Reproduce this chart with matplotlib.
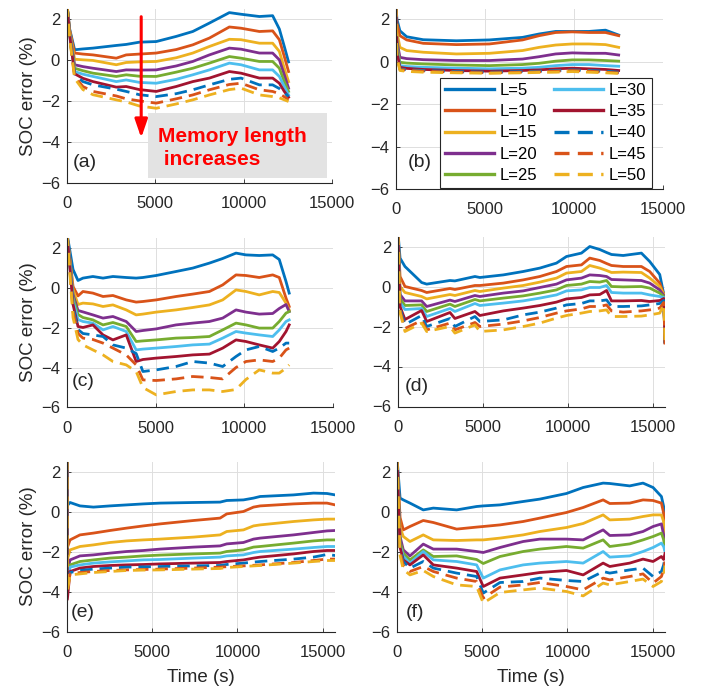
import matplotlib.pyplot as plt
from matplotlib.lines import Line2D
from matplotlib.patches import Rectangle

plt.rcParams['font.family'] = ['Liberation Sans', 'DejaVu Sans']

# memory lengths of the ten curves
memory = [5, 10, 15, 20, 25, 30, 35, 40, 45, 50]
labels = [f'L={m}' for m in memory]

# (a)
t_a = [0, 150, 430, 900, 1470, 2790, 3350, 4100, 5050, 6180, 7120, 8060, 9190, 9850, 10890, 11640, 12020, 12300, 12540]
soc_a = [
    [2.7, 1.5, 0.49, 0.53, 0.57, 0.7, 0.75, 0.86, 0.89, 1.14, 1.38, 1.79, 2.3, 2.22, 2.11, 2.15, 1.5, 0.65, -0.1],
    [2.7, 1.45, 0.33, 0.28, 0.24, 0.08, 0.24, 0.28, 0.33, 0.5, 0.73, 1.06, 1.6, 1.54, 1.38, 1.41, 0.98, 0.16, -0.57],
    [2.7, 1.4, 0.03, 0.0, -0.03, -0.24, -0.13, -0.1, -0.08, 0.1, 0.33, 0.65, 1.0, 0.98, 0.81, 0.81, 0.41, -0.41, -1.06],
    [2.7, 1.35, -0.24, -0.33, -0.41, -0.57, -0.49, -0.5, -0.49, -0.3, -0.08, 0.24, 0.57, 0.52, 0.33, 0.33, 0.0, -0.73, -1.38],
    [2.7, 1.3, -0.41, -0.53, -0.65, -0.81, -0.73, -0.8, -0.81, -0.6, -0.41, -0.16, 0.16, 0.08, -0.08, -0.08, -0.41, -1.06, -1.54],
    [2.7, 1.25, -0.57, -0.7, -0.81, -1.06, -0.98, -1.1, -1.14, -0.95, -0.73, -0.49, -0.16, -0.24, -0.49, -0.49, -0.81, -1.3, -1.71],
    [2.7, 1.2, -0.68, -0.9, -1.06, -1.33, -1.3, -1.45, -1.54, -1.3, -1.06, -0.89, -0.57, -0.65, -0.89, -0.89, -1.14, -1.54, -1.82],
    [2.7, 1.15, -0.7, -1.06, -1.22, -1.43, -1.54, -1.7, -1.79, -1.65, -1.46, -1.22, -0.95, -0.89, -1.22, -1.22, -1.4, -1.6, -1.79],
    [2.7, 1.1, -0.8, -1.3, -1.54, -1.76, -1.9, -2.0, -2.11, -1.9, -1.71, -1.46, -1.2, -1.14, -1.46, -1.54, -1.65, -1.8, -1.95],
    [2.7, 1.05, -0.9, -1.45, -1.7, -1.95, -2.05, -2.25, -2.36, -2.15, -1.95, -1.71, -1.45, -1.38, -1.71, -1.79, -1.85, -1.95, -2.03],
]

# (b)
t_b = [0, 50, 220, 600, 1530, 3390, 5250, 7110, 8040, 8970, 9900, 10840, 11770, 12510]
soc_b = [
    [2.7, 2.0, 1.45, 1.17, 1.03, 0.98, 1.02, 1.14, 1.3, 1.42, 1.42, 1.42, 1.48, 1.25],
    [2.7, 1.8, 1.22, 1.02, 0.86, 0.8, 0.83, 1.02, 1.22, 1.37, 1.4, 1.37, 1.37, 1.22],
    [2.7, 1.4, 0.67, 0.52, 0.44, 0.36, 0.39, 0.52, 0.67, 0.78, 0.83, 0.83, 0.8, 0.67],
    [2.7, 1.0, 0.2, 0.14, 0.09, 0.05, 0.05, 0.12, 0.23, 0.36, 0.41, 0.39, 0.39, 0.31],
    [2.7, 0.8, -0.03, -0.07, -0.11, -0.16, -0.19, -0.14, -0.08, 0.02, 0.08, 0.08, 0.05, 0.02],
    [2.7, 0.6, -0.19, -0.23, -0.27, -0.31, -0.34, -0.31, -0.27, -0.19, -0.14, -0.14, -0.19, -0.22],
    [2.7, 0.5, -0.27, -0.32, -0.37, -0.42, -0.45, -0.42, -0.39, -0.34, -0.31, -0.34, -0.37, -0.42],
    [2.7, 0.4, -0.34, -0.38, -0.42, -0.47, -0.5, -0.47, -0.45, -0.42, -0.39, -0.42, -0.45, -0.5],
    [2.7, 0.3, -0.37, -0.41, -0.45, -0.5, -0.53, -0.5, -0.48, -0.45, -0.42, -0.45, -0.5, -0.53],
    [2.7, 0.2, -0.42, -0.46, -0.5, -0.53, -0.55, -0.53, -0.51, -0.5, -0.47, -0.5, -0.53, -0.56],
]

# (c)
t_c = [0, 340, 620, 900, 1460, 2030, 2590, 3340, 3900, 4280, 5030, 6150, 7090, 8030, 8780, 9530, 10090, 10840, 11600, 11970, 12350, 12530]
soc_c = [
    [2.7, 0.9, 0.35, 0.47, 0.55, 0.47, 0.55, 0.5, 0.47, 0.5, 0.6, 0.8, 0.97, 1.22, 1.45, 1.72, 1.63, 1.6, 1.63, 1.4, 0.3, -0.28],
    [2.7, 0.05, -0.42, -0.2, -0.28, -0.45, -0.4, -0.62, -0.73, -0.7, -0.62, -0.45, -0.33, -0.2, 0.13, 0.63, 0.6, 0.5, 0.63, 0.5, -0.53, -0.95],
    [2.7, -0.1, -0.85, -0.78, -0.82, -0.95, -0.87, -1.12, -1.37, -1.33, -1.23, -1.12, -1.0, -0.87, -0.62, -0.12, -0.2, -0.37, -0.2, -0.25, -0.78, -1.12],
    [2.7, -0.35, -1.15, -1.22, -1.37, -1.53, -1.45, -1.7, -2.2, -2.15, -2.07, -1.87, -1.78, -1.7, -1.53, -1.12, -1.23, -1.33, -1.3, -1.05, -0.85, -1.2],
    [2.7, -0.5, -1.35, -1.5, -1.62, -1.87, -1.75, -1.95, -2.7, -2.67, -2.62, -2.53, -2.5, -2.45, -2.12, -1.78, -1.87, -2.03, -2.03, -1.7, -1.28, -1.2],
    [2.7, -0.65, -1.6, -1.7, -1.78, -2.12, -1.95, -2.2, -3.12, -3.08, -3.03, -2.95, -2.87, -2.83, -2.53, -2.2, -2.28, -2.37, -2.45, -2.12, -1.7, -1.62],
    [2.7, -0.85, -1.95, -2.0, -1.87, -2.37, -2.62, -2.37, -3.7, -3.6, -3.53, -3.45, -3.37, -3.33, -3.03, -2.62, -2.7, -2.87, -3.03, -2.7, -2.2, -1.87],
    [2.7, -1.0, -2.1, -2.3, -2.37, -2.45, -2.87, -3.03, -3.3, -4.2, -4.12, -3.95, -3.7, -3.78, -3.95, -3.45, -3.12, -2.95, -3.2, -3.03, -2.78, -2.78],
    [2.7, -1.2, -2.3, -2.53, -2.6, -2.78, -3.03, -3.37, -3.87, -4.62, -4.65, -4.57, -4.45, -4.5, -4.57, -4.0, -3.7, -3.62, -3.7, -3.53, -3.12, -3.03],
    [2.7, -1.5, -2.6, -2.87, -3.12, -3.37, -3.7, -3.87, -4.2, -5.0, -5.37, -5.2, -5.12, -5.12, -5.2, -5.1, -4.6, -4.12, -4.28, -4.28, -4.03, -3.87],
]

# (d)
t_d = [0, 120, 410, 1390, 1690, 3060, 3350, 4530, 4820, 6200, 7370, 8350, 9330, 9920, 10800, 11290, 11880, 12280, 12570, 13260, 14330, 14820, 15410, 15650, 15720]
soc_d = [
    [2.7, 1.42, 1.0, 0.2, 0.12, 0.3, 0.28, 0.5, 0.45, 0.58, 0.75, 0.92, 1.17, 1.5, 1.67, 2.0, 1.85, 1.7, 1.6, 1.55, 1.67, 1.25, 0.6, -0.4, -2.6],
    [2.7, 0.5, 0.0, -0.2, -0.3, -0.1, -0.15, 0.05, 0.05, 0.17, 0.33, 0.5, 0.75, 1.0, 1.08, 1.42, 1.3, 1.15, 1.05, 1.0, 1.0, 0.75, 0.17, -0.4, -2.7],
    [2.7, 0.0, -0.3, -0.5, -0.62, -0.4, -0.45, -0.2, -0.25, -0.08, 0.05, 0.22, 0.42, 0.67, 0.75, 1.05, 0.92, 0.8, 0.7, 0.72, 0.7, 0.42, 0.0, -0.4, -2.7],
    [2.7, -0.4, -0.72, -0.72, -1.0, -0.68, -0.75, -0.45, -0.5, -0.33, -0.22, -0.05, 0.12, 0.33, 0.42, 0.58, 0.55, 0.5, 0.35, 0.33, 0.3, 0.17, -0.17, -0.45, -2.75],
    [2.7, -0.6, -0.95, -0.92, -1.25, -0.88, -1.0, -0.65, -0.72, -0.58, -0.47, -0.33, -0.17, 0.05, 0.12, 0.25, 0.22, 0.3, 0.0, -0.02, 0.0, -0.08, -0.33, -0.5, -2.75],
    [2.7, -0.8, -1.15, -1.1, -1.5, -1.1, -1.25, -0.85, -0.95, -0.83, -0.72, -0.58, -0.42, -0.22, -0.17, -0.05, -0.05, 0.05, -0.3, -0.33, -0.33, -0.42, -0.5, -0.55, -2.8],
    [2.7, -1.0, -1.65, -1.2, -1.75, -1.3, -1.6, -1.25, -1.45, -1.22, -1.08, -0.95, -0.78, -0.62, -0.55, -0.42, -0.4, -0.2, -0.72, -0.72, -0.7, -0.75, -0.7, -0.6, -2.8],
    [2.7, -1.1, -1.9, -1.45, -2.0, -1.6, -2.0, -1.5, -1.75, -1.67, -1.42, -1.28, -1.08, -0.92, -0.85, -0.72, -0.72, -0.67, -1.0, -1.0, -0.97, -0.92, -0.85, -0.7, -2.85],
    [2.7, -1.2, -2.1, -1.7, -2.17, -1.83, -2.17, -1.8, -2.0, -1.88, -1.72, -1.55, -1.33, -1.22, -1.12, -1.0, -1.0, -0.92, -1.22, -1.28, -1.22, -1.17, -1.08, -0.8, -2.9],
    [2.7, -1.3, -2.25, -1.83, -2.25, -2.0, -2.33, -1.92, -2.25, -2.17, -2.0, -1.83, -1.58, -1.45, -1.33, -1.25, -1.22, -1.17, -1.5, -1.5, -1.48, -1.42, -1.33, -0.9, -2.9],
]

# (e)
t_e = [0, 20, 180, 760, 1550, 2520, 3500, 4480, 5460, 7420, 8980, 9370, 10350, 10940, 11330, 13290, 14460, 15250, 15730]
soc_e = [
    [2.7, 0.3, 0.45, 0.28, 0.22, 0.28, 0.33, 0.38, 0.42, 0.45, 0.47, 0.55, 0.58, 0.67, 0.75, 0.83, 0.92, 0.9, 0.83],
    [2.7, -1.8, -1.42, -1.17, -1.08, -0.95, -0.83, -0.72, -0.62, -0.45, -0.33, -0.12, 0.0, 0.22, 0.28, 0.38, 0.42, 0.42, 0.33],
    [2.7, -2.4, -1.92, -1.75, -1.67, -1.55, -1.47, -1.42, -1.38, -1.28, -1.17, -1.0, -0.92, -0.72, -0.67, -0.5, -0.42, -0.38, -0.38],
    [2.7, -3.0, -2.42, -2.22, -2.17, -2.08, -2.0, -1.95, -1.88, -1.78, -1.72, -1.62, -1.55, -1.38, -1.33, -1.17, -1.05, -0.97, -0.95],
    [2.7, -3.3, -2.67, -2.5, -2.42, -2.33, -2.28, -2.22, -2.18, -2.12, -2.08, -2.0, -1.92, -1.78, -1.75, -1.58, -1.47, -1.42, -1.42],
    [2.7, -3.5, -2.78, -2.67, -2.58, -2.52, -2.47, -2.42, -2.4, -2.33, -2.28, -2.22, -2.17, -2.05, -2.0, -1.88, -1.8, -1.75, -1.75],
    [2.7, -4.4, -3.0, -2.83, -2.75, -2.7, -2.67, -2.65, -2.62, -2.58, -2.55, -2.5, -2.42, -2.33, -2.28, -2.12, -2.0, -1.95, -1.95],
    [2.7, -3.8, -3.05, -2.95, -2.88, -2.83, -2.78, -2.77, -2.75, -2.72, -2.7, -2.65, -2.58, -2.53, -2.5, -2.38, -2.28, -2.15, -2.2],
    [2.7, -3.9, -3.12, -3.05, -3.0, -2.95, -2.92, -2.9, -2.88, -2.83, -2.78, -2.76, -2.72, -2.69, -2.67, -2.55, -2.45, -2.38, -2.38],
    [2.7, -4.0, -3.17, -3.12, -3.05, -3.0, -2.95, -2.93, -2.92, -2.88, -2.85, -2.8, -2.75, -2.72, -2.7, -2.58, -2.5, -2.45, -2.45],
]

# (f)
t_f = [0, 180, 370, 760, 1540, 2130, 3500, 4670, 5060, 6040, 7400, 8380, 9940, 10920, 12090, 12480, 13650, 14430, 15020, 15510, 15640, 15720]
soc_f = [
    [2.7, 0.67, 0.58, 0.42, 0.08, 0.17, 0.08, 0.25, 0.28, 0.33, 0.5, 0.62, 0.9, 1.2, 1.42, 1.4, 1.28, 1.42, 1.2, 0.75, 0.25, -1.7],
    [2.7, -0.3, -0.92, -0.75, -0.45, -0.55, -0.88, -0.78, -0.75, -0.67, -0.5, -0.33, -0.05, 0.2, 0.58, 0.4, 0.42, 0.58, 0.55, 0.42, -0.08, -1.6],
    [2.7, -0.8, -1.25, -1.5, -1.17, -1.42, -1.45, -1.42, -1.42, -1.33, -1.17, -1.0, -0.8, -0.6, -0.17, -0.42, -0.38, -0.25, -0.17, -0.17, -0.5, -1.7],
    [2.7, -1.25, -1.92, -2.22, -1.63, -1.88, -1.88, -2.0, -2.05, -1.8, -1.5, -1.38, -1.38, -1.42, -0.92, -1.2, -1.17, -1.0, -0.75, -0.62, -1.17, -1.8],
    [2.7, -1.5, -2.08, -2.42, -1.92, -2.25, -2.22, -2.4, -2.6, -2.25, -2.0, -1.88, -1.75, -1.83, -1.42, -1.75, -1.62, -1.42, -1.25, -1.08, -1.4, -1.9],
    [2.7, -1.7, -2.25, -2.58, -2.0, -2.42, -2.5, -2.67, -3.33, -2.92, -2.67, -2.58, -2.5, -2.58, -2.0, -2.28, -2.22, -2.0, -1.8, -1.58, -1.75, -2.0],
    [2.7, -1.8, -2.42, -2.67, -2.17, -2.67, -2.83, -3.0, -3.75, -3.33, -3.17, -3.05, -2.95, -3.17, -2.58, -2.75, -2.58, -2.38, -2.5, -2.25, -2.4, -2.1],
    [2.7, -1.9, -2.5, -2.83, -2.5, -2.83, -3.08, -3.25, -4.08, -3.55, -3.5, -3.33, -3.45, -3.5, -3.0, -3.08, -2.92, -2.83, -3.25, -3.0, -2.67, -2.3],
    [2.7, -2.0, -2.7, -3.0, -2.75, -3.0, -3.33, -3.5, -4.33, -3.78, -3.67, -3.55, -3.75, -3.92, -3.33, -3.42, -3.25, -3.12, -3.58, -3.25, -2.9, -2.5],
    [2.7, -2.2, -2.9, -3.17, -2.95, -3.25, -3.67, -3.75, -4.58, -4.05, -3.92, -3.83, -4.0, -4.22, -3.58, -3.67, -3.5, -3.38, -3.75, -3.5, -3.17, -2.7],
]

colors = ['#0072BD', '#D95319', '#EDB120', '#7E2F8E', '#77AC30', '#4DBEEE', '#A2142F',
          '#0072BD', '#D95319', '#EDB120']
dash = (4.5, 2.5)
ink = '#262626'

W, H = 706, 690
fig = plt.figure(figsize=(W / 100, H / 100), dpi=100)


def px_axes(left, top, right, bottom):
    return fig.add_axes([left / W, 1 - bottom / H, (right - left) / W, (bottom - top) / H])


# (t, soc, pixel box, x end, tag, tag position, ylabel, xlabel)
panels = [
    (t_a, soc_a, (67, 8.5, 332, 183), 15000, '(a)', (330, -5.0), True, False),
    (t_b, soc_b, (396, 8.5, 663, 189), 15000, '(b)', (650, -4.75), False, False),
    (t_c, soc_c, (67, 237.5, 333, 407.5), 15000, '(c)', (290, -4.7), True, False),
    (t_d, soc_d, (398, 236.5, 665, 406.5), 15720, '(d)', (390, -5.0), False, False),
    (t_e, soc_e, (67, 461.5, 335, 631.5), 15720, '(e)', (200, -5.05), True, True),
    (t_f, soc_f, (397, 461.5, 665, 631.5), 15720, '(f)', (520, -5.05), False, True),
]

axes = []
for t, soc, box, xend, tag, tag_xy, ylab, xlab in panels:
    ax = px_axes(*box)
    for i, y in enumerate(soc):
        if i >= 7:
            ax.plot(t, y, color=colors[i], lw=2.0, dashes=dash)
        else:
            ax.plot(t, y, color=colors[i], lw=2.0, solid_joinstyle='round')
    ax.set_xlim(0, xend)
    ax.set_ylim(-6, 2.5)
    ax.set_xticks([0, 5000, 10000, 15000])
    ax.set_yticks([-6, -4, -2, 0, 2])
    ax.grid(True, color='#dedede', lw=0.7)
    ax.set_axisbelow(True)
    for s in ['top', 'right']:
        ax.spines[s].set_visible(False)
    for s in ['left', 'bottom']:
        ax.spines[s].set_color(ink)
        ax.spines[s].set_linewidth(0.8)
    ax.tick_params(direction='in', length=3, width=0.6, colors=ink, labelsize=12)
    ax.tick_params(axis='x', pad=9.5)
    ax.tick_params(axis='y', pad=5)
    ax.text(tag_xy[0], tag_xy[1], tag, fontsize=14, color=ink, ha='left', va='center', zorder=6)
    if ylab:
        ax.set_ylabel('SOC error (%)', fontsize=13.5, color=ink)
        ax.yaxis.set_label_coords(-30 / (box[2] - box[0]), 0.5)
    if xlab:
        ax.set_xlabel('Time (s)', fontsize=13.5, color=ink, labelpad=7)
    axes.append(ax)

# annotation in (a)
ax_a = axes[0]
ax_a.add_patch(Rectangle((4560, -5.75), 10170, 3.15, facecolor='#e3e3e3', edgecolor='none', zorder=2.5))
ax_a.annotate('', xy=(4200, -3.8), xytext=(4200, 2.1),
              arrowprops=dict(arrowstyle='-|>,head_length=1.1,head_width=0.38', color='#ff0000',
                              lw=2.2, shrinkA=0, shrinkB=0), zorder=4)
ax_a.text(5150, -4.3, 'Memory length\n increases', fontsize=15, fontweight='bold', color='#ff0000',
          ha='left', va='center', linespacing=1.25, zorder=4)

# legend in (b)
handles = []
for i in range(10):
    if i >= 7:
        handles.append(Line2D([], [], color=colors[i], lw=2.4, dashes=dash))
    else:
        handles.append(Line2D([], [], color=colors[i], lw=2.4))
leg = axes[1].legend(handles, labels, ncol=2, loc='upper right', bbox_to_anchor=(0.957, 0.615),
                     fontsize=12, frameon=True, fancybox=False, framealpha=1, edgecolor=ink,
                     handlelength=2.95, handletextpad=0.35, columnspacing=1.0, labelspacing=0.375,
                     borderpad=0.3, borderaxespad=0)
leg.get_frame().set_linewidth(0.8)
leg.set_zorder(5)

fig.savefig('out.png', dpi=100)
